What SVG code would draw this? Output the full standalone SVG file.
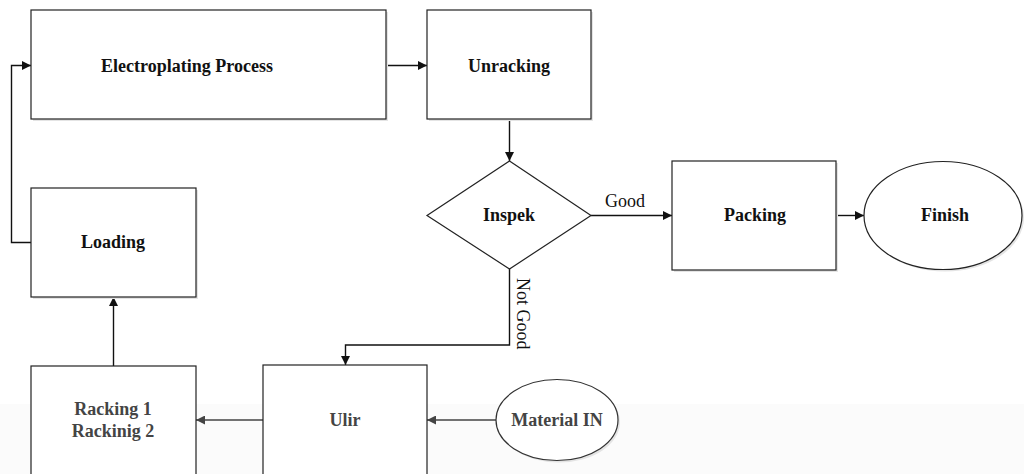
<svg xmlns="http://www.w3.org/2000/svg" width="1024" height="474" viewBox="0 0 1024 474">
<style>
.box{fill:#fff;stroke:#222;stroke-width:1.2}
.shadow{fill:#e4e4e4}
.lbl{font-family:"Liberation Serif",serif;font-weight:bold;font-size:18px;fill:#111;text-anchor:middle}
.lbl2{font-family:"Liberation Serif",serif;font-weight:bold;font-size:18px;fill:#444;text-anchor:middle}
.edge{fill:none;stroke:#111;stroke-width:1.4}
.edge2{fill:none;stroke:#444;stroke-width:1.4}
.elbl{font-family:"Liberation Serif",serif;font-size:18px;fill:#111}
</style>
<defs>
<marker id="ah" viewBox="0 0 10 10" refX="10" refY="5" markerWidth="10" markerHeight="9" markerUnits="userSpaceOnUse" orient="auto"><path d="M0,0 L10,5 L0,10 Z" fill="#111"/></marker>
<marker id="ah2" viewBox="0 0 10 10" refX="10" refY="5" markerWidth="10" markerHeight="9" markerUnits="userSpaceOnUse" orient="auto"><path d="M0,0 L10,5 L0,10 Z" fill="#444"/></marker>
</defs>
<rect x="0" y="0" width="1024" height="474" fill="#fff"/>
<rect x="0" y="404" width="1024" height="70" fill="#fbfbfb"/>

<g id="connectors">
<path class="edge" d="M31,242.5 H11.5 V65.5 H31" marker-end="url(#ah)"/>
<path class="edge" d="M386,65.5 H427" marker-end="url(#ah)"/>
<path class="edge" d="M509.5,119 V161" marker-end="url(#ah)"/>
<path class="edge" d="M591,215.5 H672" marker-end="url(#ah)"/>
<path class="edge" d="M836,215.5 H864" marker-end="url(#ah)"/>
<path class="edge" d="M509.5,269 V345 H345.5 V365" marker-end="url(#ah)"/>
<path class="edge" d="M113.5,366 V297" marker-end="url(#ah)"/>
<path class="edge2" d="M263,420 H196" marker-end="url(#ah2)"/>
<path class="edge2" d="M496,420 H427" marker-end="url(#ah2)"/>
<text class="elbl" x="605" y="207">Good</text>
<text class="elbl" transform="translate(517,278) rotate(90)">Not Good</text>
</g>

<g id="electroplating">
<rect class="shadow" x="33" y="12" width="355" height="109"/>
<rect class="box" x="31" y="10" width="355" height="109"/>
<text class="lbl" x="187" y="72">Electroplating Process</text>
</g>
<g id="unracking">
<rect class="shadow" x="429" y="12" width="164" height="109"/>
<rect class="box" x="427" y="10" width="164" height="109"/>
<text class="lbl" x="509" y="72">Unracking</text>
</g>
<g id="inspek">
<polygon class="box" points="509.5,161 591,215.5 509.5,269 427,215.5"/>
<text class="lbl" x="509" y="221">Inspek</text>
</g>
<g id="packing">
<rect class="shadow" x="674" y="163" width="164" height="109"/>
<rect class="box" x="672" y="161" width="164" height="109"/>
<text class="lbl" x="755" y="221">Packing</text>
</g>
<g id="finish">
<ellipse class="shadow" cx="945" cy="217.5" rx="79" ry="54"/>
<ellipse class="box" cx="943" cy="215.5" rx="79" ry="54"/>
<text class="lbl" x="945" y="221">Finish</text>
</g>
<g id="loading">
<rect class="shadow" x="33" y="190" width="165" height="109"/>
<rect class="box" x="31" y="188" width="165" height="109"/>
<text class="lbl" x="113" y="248">Loading</text>
</g>
<g id="racking">
<rect class="box" x="31" y="366" width="165" height="120"/>
<text class="lbl2" x="113" y="415">Racking 1</text>
<text class="lbl2" x="113" y="437">Rackinig 2</text>
</g>
<g id="ulir">
<rect class="box" x="263" y="365" width="164" height="120"/>
<text class="lbl2" x="345" y="426">Ulir</text>
</g>
<g id="material">
<ellipse class="shadow" cx="559" cy="422" rx="61" ry="40.5"/>
<ellipse class="box" cx="557" cy="420" rx="61" ry="40.5" style="stroke:#333"/>
<text class="lbl2" x="557" y="426">Material IN</text>
</g>
</svg>
